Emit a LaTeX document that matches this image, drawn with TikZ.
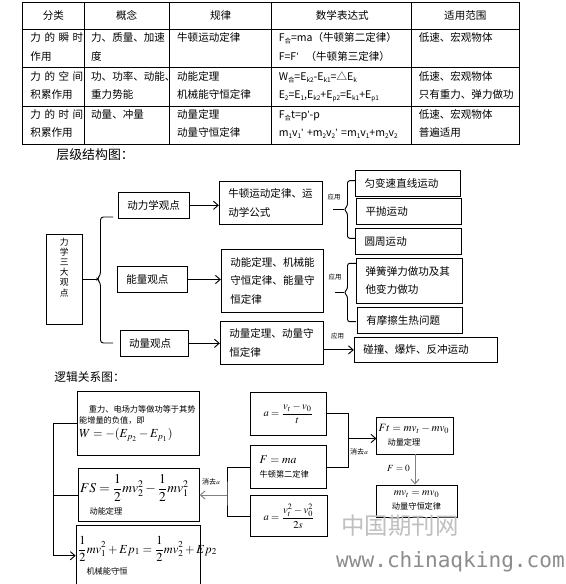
\documentclass[tikz,border=0pt]{standalone}
\usepackage{amsmath}
\usepackage{mathptmx}
\usepackage[no-math]{fontspec}
\setmainfont{Noto Sans CJK SC}
\newfontfamily\wmfont{DejaVu Sans Mono}
\newfontfamily\latfont{Liberation Sans}
\usepackage{tikz}
\usetikzlibrary{positioning, arrows.meta}
\newcommand\subt[1]{\raisebox{-1.6pt}{\fontsize{5.5}{5.5}\selectfont #1}}
\newcommand\pr{{\latfont ’}}

\begin{document}
\begin{tikzpicture}[x=0.03cm, y=-0.03cm, line width=0.8pt,
   font=\fontsize{9}{15.6}\selectfont,
   cell/.style={anchor=base west, inner sep=0pt, align=left},
   box/.style={draw, align=left, inner xsep=0.27cm, inner ysep=0pt},
   lbox/.style={draw, align=left, inner xsep=1.5pt, inner ysep=0pt},
   arr/.style={-{Straight Barb[length=4pt, width=7pt]}},
   use/.style={font=\fontsize{5.5}{6}\selectfont, inner sep=0pt},
   note/.style={font=\fontsize{6}{7}\selectfont, inner sep=0pt}]
  \fill[white] (0,0) rectangle (566,584);
  \useasboundingbox (0,0) rectangle (566,584);

  % table
  \draw (22.7,2.7) rectangle (519.3,144.3);
  \foreach \x in {84.3,169.3,271.7,411.7} \draw (\x,2.7) -- (\x,144.3);
  \foreach \y in {29.3,67.7,106} \draw (22.7,\y) -- (519.3,\y);
  \foreach \x/\t in {53.4/分类,126.7/概念,220.7/规律,342.3/数学表达式,465.3/适用范围}
    \node at (\x,15.5) {\t};
  \foreach \y/\ca/\cb/\cc/\cd/\ce in {%
    29.3/{力 的 瞬 时\\作用}/{力、质量、加速\\度}/{牛顿运动定律}/{F\subt{合}=ma（牛顿第二定律）\\F=F\pr\ \ （牛顿第三定律）}/{低速、宏观物体},%
    67.7/{力 的 空 间\\积累作用}/{功、功率、动能、\\重力势能}/{动能定理\\机械能守恒定律}/{W\subt{合}=E\subt{k2}-E\subt{k1}=△E\subt{k}\\E\subt{2}=E\subt{1},E\subt{k2}+E\subt{p2}=E\subt{k1}+E\subt{p1}}/{低速、宏观物体\\只有重力、弹力做功},%
    106/{力 的 时 间\\积累作用}/{动量、冲量}/{动量定理\\动量守恒定律}/{F\subt{合}t=p\pr-p\\m\subt{1}v\subt{1}\pr\ +m\subt{2}v\subt{2}\pr\ =m\subt{1}v\subt{1}+m\subt{2}v\subt{2}}/{低速、宏观物体\\普遍适用}}{%
      \node[cell, text width=1.62cm] at (30,\y+12.5) {\ca};
      \node[cell, text width=2.35cm] at (90.7,\y+12.5) {\cb};
      \node[cell, text width=2.85cm] at (176.7,\y+12.5) {\cc};
      \node[cell, text width=4.0cm] at (278.3,\y+12.5) {\cd};
      \node[cell, text width=3.03cm] at (418.3,\y+12.5) {\ce};
  }

  % hierarchy
  \node[anchor=west, inner sep=0pt, font=\fontsize{11}{12}\selectfont] (head1) at (56,155) {层级结构图：};
  \node[draw, minimum width=1.09cm, minimum height=2.7cm,
        label={[yshift=0.35cm, font=\fontsize{7.5}{8.7}\selectfont, align=center]center:{力\\学\\三\\大\\观\\点}}]
        (sanda) at (64.3,279) {};
  \node[box, text width=1.59cm, minimum height=0.78cm] (dyn) at (153.8,205.3) {动力学观点};
  \node[box, text width=1.56cm, minimum height=0.77cm] (ene) at (152.3,279.5) {能量观点};
  \node[box, text width=1.51cm, minimum height=0.76cm] (mom) at (154.2,343.3) {动量观点};
  \node[box, text width=2.55cm, minimum height=1.27cm] (newton) at (270.8,202.9) {牛顿运动定律、运\\动学公式};
  \node[box, text width=2.52cm, minimum height=1.89cm] (enlaw) at (272.3,280.8) {动能定理、机械能\\守恒定律、能量守\\恒定律};
  \node[box, text width=2.55cm, minimum height=1.27cm] (momlaw) at (271.8,342.9) {动量定理、动量守\\恒定律};
  \node[box, text width=2.59cm, minimum height=0.76cm] (a1) at (407.8,183.3) {匀变速直线运动};
  \node[box, text width=2.59cm, minimum height=0.77cm] (a2) at (408.8,211.2) {平抛运动};
  \node[box, text width=2.62cm, minimum height=0.77cm] (a3) at (408.3,241.2) {圆周运动};
  \node[box, text width=2.63cm, minimum height=1.35cm] (b1) at (409.5,280.8) {弹簧弹力做功及其\\他变力做功};
  \node[box, text width=2.61cm, minimum height=0.78cm] (b2) at (409.8,320.3) {有摩擦生热问题};
  \node[box, text width=3.75cm, minimum height=0.73cm] (c1) at (425.8,349.9) {碰撞、爆炸、反冲运动};
  % braces
  \coordinate (tipA) at (97,279);
  \coordinate (tipB) at (344,209.5);
  \coordinate (tipC) at (344,292.5);
  \draw (sanda.east) -- (tipA);
  \draw[rounded corners=2.5pt] (113,217) -| (100.5,275) -- (tipA) -- (100.5,283) |- (113,343);
  \draw[rounded corners=2pt] (355,180.7) -| (347.5,206) -- (tipB) -- (347.5,213) |- (355,238.3);
  \draw[rounded corners=2pt] (356,263.3) -| (347.5,289) -- (tipC) -- (347.5,296) |- (356,321.7);
  \draw[shorten <=0.32cm] (newton.east |- tipB) -- (tipB);
  \draw[shorten <=0.33cm] (enlaw.east |- tipC) -- (tipC);
  \draw[arr] (dyn.east) -- (dyn.east -| newton.west);
  \draw[arr] (ene.east) -- (ene.east -| enlaw.west);
  \draw[arr] (mom.east) -- (mom.east -| momlaw.west);
  \draw[arr] (momlaw.east |- c1.west) -- (c1.west);
  \node[use] (use1) at (334,196.7) {应用};
  \node[use] (use2) at (335,277.3) {应用};
  \node[use] (use3) at (337.5,336) {应用};

  % logic
  \node[anchor=west, inner sep=0pt, font=\fontsize{10}{12}\selectfont] (head2) at (54,377) {逻辑关系图：};
  \node[lbox, font=\fontsize{7}{10}\selectfont, text width=3.55cm, minimum height=1.9cm] (A) at (138.3,423.4)
    {\hspace*{1.2em}重力、电场力等做功等于其势\\能增量的负值，即\\[2pt]{\fontsize{10.5}{13}\selectfont$W=-(E_{p_2}-E_{p_1})$}};
  \node[lbox, font=\fontsize{11.5}{13}\selectfont, text width=3.52cm, minimum height=1.6cm] (B) at (138.8,495)
    {\mbox{$\displaystyle FS=\frac{1}{2}mv_2^2-\frac{1}{2}mv_1^2$}\\[4pt]\hspace*{0.7em}{\fontsize{7}{9}\selectfont 动能定理}};
  \node[lbox, font=\fontsize{10.5}{13}\selectfont, text width=3.63cm, minimum height=1.8cm] (C) at (138.4,555.7)
    {\mbox{$\displaystyle\frac{1}{2}mv_1^2+Ep_1=\frac{1}{2}mv_2^2+Ep_2$}\\[4pt]\hspace*{0.7em}{\fontsize{7}{9}\selectfont 机械能守恒}};
  \node[draw, font=\fontsize{9}{12}\selectfont, minimum width=2.26cm, minimum height=1.28cm] (D) at (288.3,413.7)
    {$a=\dfrac{v_t-v_0}{t}$};
  \node[box, font=\fontsize{10}{12}\selectfont, text width=1.72cm, minimum height=1.28cm] (E) at (288.3,467)
    {$F=ma$\\{\fontsize{7}{9}\selectfont 牛顿第二定律}};
  \node[draw, font=\fontsize{9}{12}\selectfont, minimum width=2.3cm, minimum height=1.23cm] (F) at (289,516.2)
    {$a=\dfrac{v_t^2-v_0^2}{2s}$};
  \node[lbox, font=\fontsize{9.5}{12}\selectfont, text width=2.18cm, minimum height=1.11cm] (G) at (415,435.5)
    {$Ft=mv_t-mv_0$\\\hspace*{0.8em}{\fontsize{7}{9}\selectfont 动量定理}};
  \node[draw, align=center, inner ysep=0pt, font=\fontsize{9}{12}\selectfont, minimum width=2.43cm, minimum height=0.96cm] (H) at (416.5,501)
    {$mv_t=mv_0$\\{\fontsize{7}{9}\selectfont 动量守恒定律}};
  \coordinate (jr) at (348.3,438.5);
  \coordinate (jm) at (227,495);
  \coordinate (jl) at (53.3,495);
  \draw (D.east) -| (jr) |- (E.east);
  \draw[arr] (jr) -- (jr -| G.west);
  \node[note] (cut1) at (359,451.7) {消去$a$};
  \draw[arr, gray] (G.south) -- (G.south |- H.north);
  \node[font=\fontsize{8}{9}\selectfont] (fzero) at (398.5,468.3) {$F=0$};
  \draw (E.west) -| (jm) |- (F.west);
  \draw[arr, gray] (jm) -- (jm -| B.east);
  \node[note] (cut2) at (211,481.7) {消去$a$};
  \draw[arr] (A.west) -| (jl |- C.west) -- (C.west);
  \draw (B.west) -- (jl);

  % watermark
  \node[text=black!25, font=\fontsize{20}{20}\selectfont] (wm1) at (400,526) {中国期刊网};
  \node[text=black!45, font=\wmfont\fontsize{18}{18}\selectfont] (wm2) at (450.5,562) {www.chinaqking.com};
\end{tikzpicture}
\end{document}
